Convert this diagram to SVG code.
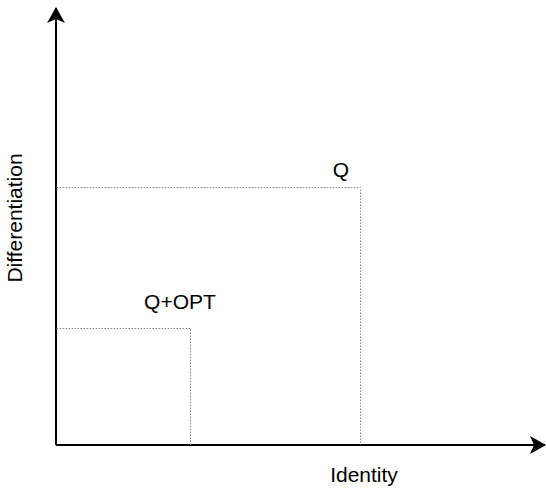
<svg xmlns="http://www.w3.org/2000/svg" width="546" height="488" viewBox="0 0 546 488">
<style>
.axis{stroke:#000;stroke-width:2;fill:none}
.dot{stroke:#888;stroke-width:1;stroke-dasharray:1.5 1.5;fill:none}
text{font-family:"Liberation Sans",Arial,sans-serif;font-size:21px;fill:#000}
</style>
<defs>
<marker id="ah2" viewBox="0 0 16 20" refX="15" refY="10" markerWidth="16" markerHeight="20" markerUnits="userSpaceOnUse" orient="auto">
<path d="M0,1 L16,10 L0,19 L4,10 Z" fill="#000"/>
</marker>
</defs>
<g id="connectors">
<line class="axis" x1="56" y1="445" x2="56" y2="8" marker-end="url(#ah2)"/>
<line class="axis" x1="56" y1="445" x2="545" y2="445" marker-end="url(#ah2)"/>
</g>
<g id="q-region">
<polyline class="dot" points="56.5,187.5 360.5,187.5 360.5,445"/>
<text x="341" y="177" text-anchor="middle">Q</text>
</g>
<g id="qopt-region">
<polyline class="dot" points="56.5,328.5 190.5,328.5 190.5,445"/>
<text x="180" y="309" text-anchor="middle">Q+OPT</text>
</g>
<g id="y-label">
<text transform="translate(22,218) rotate(-90)" text-anchor="middle">Differentiation</text>
</g>
<g id="x-label">
<text x="364" y="482" text-anchor="middle">Identity</text>
</g>
</svg>
